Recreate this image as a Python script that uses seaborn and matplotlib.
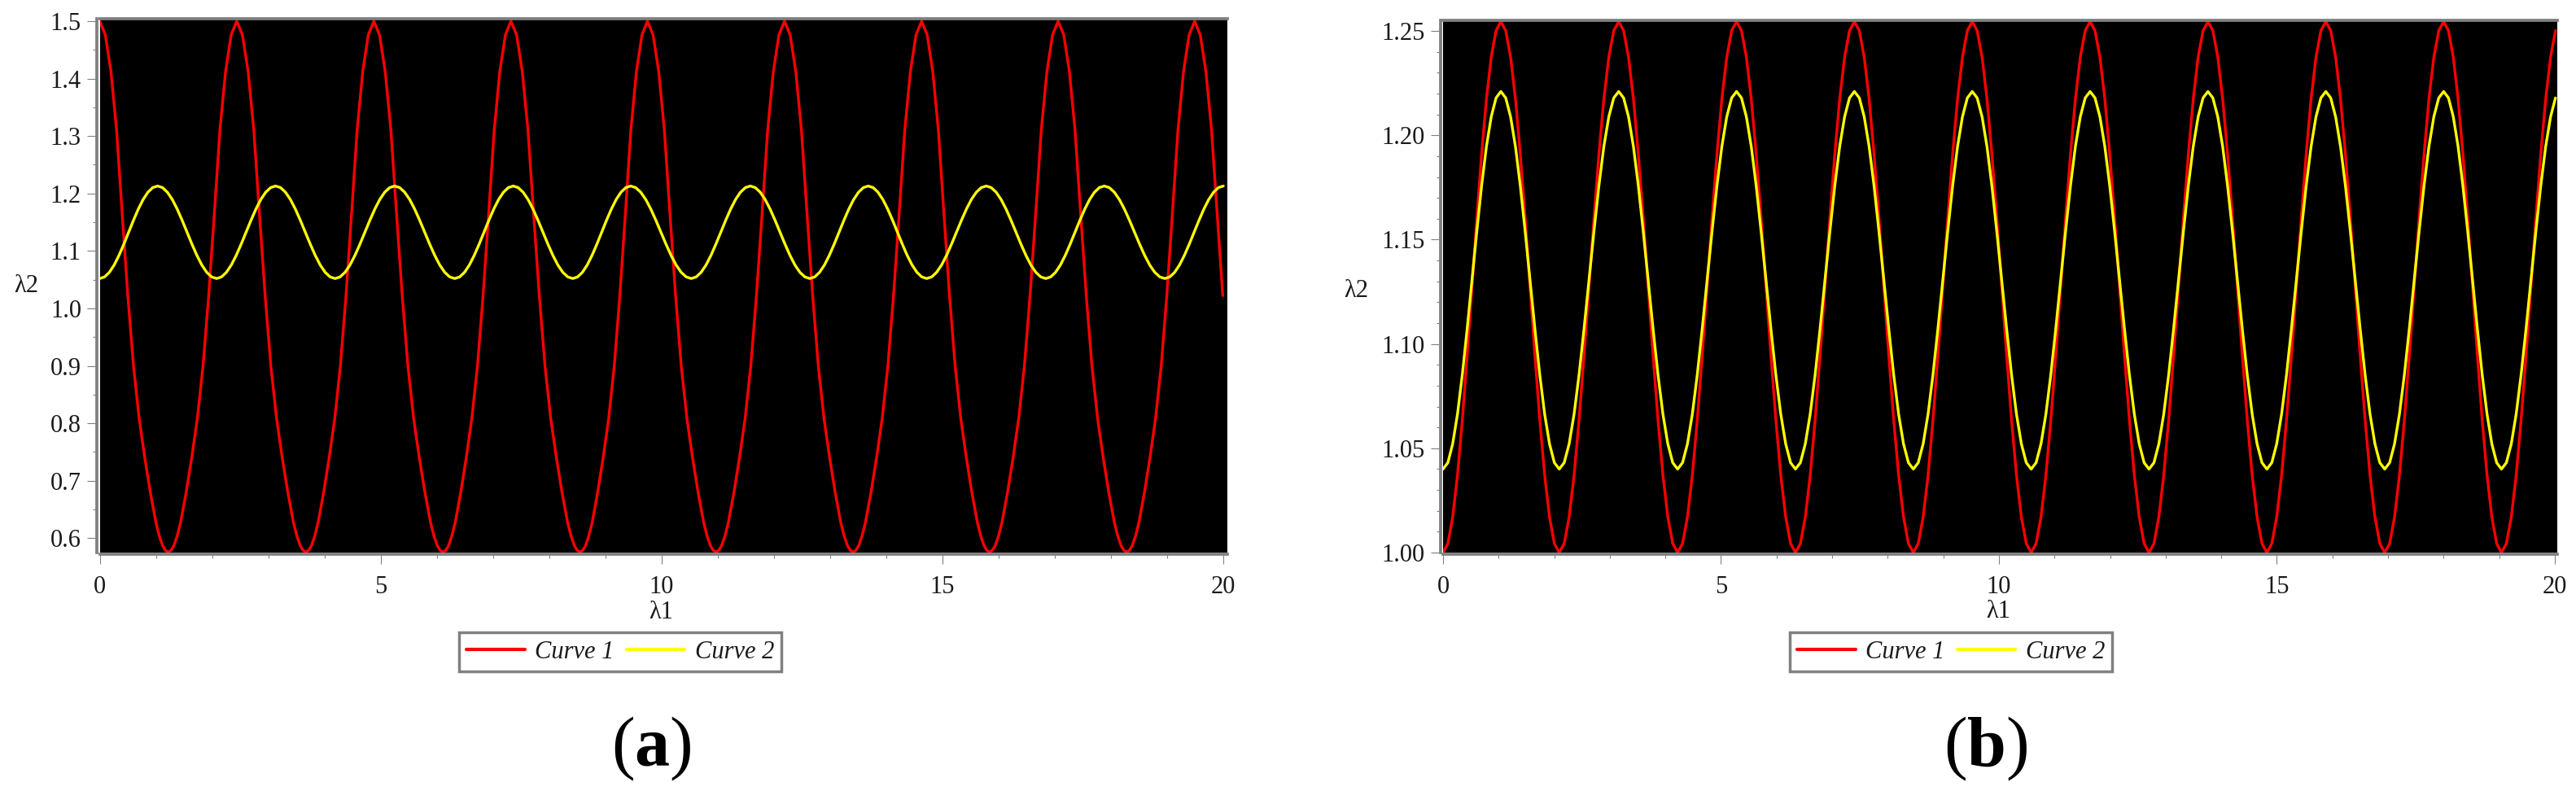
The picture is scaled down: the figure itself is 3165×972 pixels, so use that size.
import numpy as np
import pandas as pd
import matplotlib
matplotlib.use("Agg")
import matplotlib.pyplot as plt
from matplotlib.ticker import MultipleLocator, FormatStrFormatter
import seaborn as sns

# ---------------- data ----------------
# extremum positions along lambda1 (alternating peak / trough)
red_a_extrema = [0.00, 1.22, 2.44, 3.67, 4.88, 6.11, 7.32, 8.55, 9.75, 10.97,
                 12.19, 13.41, 14.63, 15.84, 17.06, 18.28, 19.49, 20.71]
red_a_first_is_peak = True
red_a_low, red_a_high = 0.576, 1.500

yel_a_extrema = [0.00, 1.03, 2.08, 3.13, 4.19, 5.25, 6.32, 7.36, 8.42, 9.45,
                 10.53, 11.58, 12.64, 13.68, 14.72, 15.78, 16.84, 17.88, 18.96, 20.00]
yel_a_first_is_peak = False
yel_a_low, yel_a_high = 1.052, 1.213

red_b_extrema = [0.00, 1.04, 2.09, 3.16, 4.22, 5.28, 6.34, 7.40, 8.46, 9.52,
                 10.58, 11.64, 12.70, 13.76, 14.82, 15.88, 16.94, 18.00, 19.04, 20.10]
red_b_first_is_peak = False
red_b_low, red_b_high = 1.000, 1.2545

yel_b_extrema = red_b_extrema
yel_b_first_is_peak = False
yel_b_low, yel_b_high = 1.040, 1.221

# shape of one half-cycle (fraction of the way from peak to trough -> relative height)
red_a_shape_f = [0.0, 0.082, 0.164, 0.246, 0.328, 0.410, 0.493, 0.575, 0.657, 0.739, 0.821, 0.870, 0.918, 0.960, 1.0]
red_a_shape_g = [1.0, 0.974, 0.905, 0.795, 0.637, 0.483, 0.350, 0.252, 0.178, 0.112, 0.055, 0.030, 0.012, 0.003, 0.0]
smooth_shape_f = [0.0, 0.0833, 0.1667, 0.25, 0.3333, 0.4167, 0.5, 0.5833, 0.6667, 0.75, 0.8333, 0.9167, 1.0]
smooth_shape_g = [1.0, 0.983, 0.933, 0.854, 0.750, 0.629, 0.500, 0.371, 0.250, 0.146, 0.067, 0.017, 0.0]

x_ticks = [0, 5, 10, 15, 20]
legend_labels = ["Curve 1", "Curve 2"]
panel_labels = ["a", "b"]


def assemble(extrema, first_is_peak, low, high, shape_f, shape_g, xmax=20.02):
    xs, ys = [], []
    for i in range(len(extrema) - 1):
        xa, xb = extrema[i], extrema[i + 1]
        a_is_peak = (i % 2 == 0) == first_is_peak
        xp, xt = (xa, xb) if a_is_peak else (xb, xa)
        pairs = list(zip(shape_f, shape_g))
        if not a_is_peak:
            pairs = pairs[::-1]
        for j, (f, g) in enumerate(pairs):
            if i > 0 and j == 0:
                continue
            x = xp + f * (xt - xp)
            if x <= xmax:
                xs.append(x)
                ys.append(low + g * (high - low))
    return pd.DataFrame({"l1": xs, "l2": ys})


red_a = assemble(red_a_extrema, red_a_first_is_peak, red_a_low, red_a_high, red_a_shape_f, red_a_shape_g, xmax=20.0)
yel_a = assemble(yel_a_extrema, yel_a_first_is_peak, yel_a_low, yel_a_high, smooth_shape_f, smooth_shape_g)
red_b = assemble(red_b_extrema, red_b_first_is_peak, red_b_low, red_b_high, smooth_shape_f, smooth_shape_g)
yel_b = assemble(yel_b_extrema, yel_b_first_is_peak, yel_b_low, yel_b_high, smooth_shape_f, smooth_shape_g)

# ---------------- styling ----------------
sns.set_style("ticks")
plt.rcParams["font.family"] = ["Liberation Serif", "DejaVu Serif"]
plt.rcParams["mathtext.fontset"] = "custom"
plt.rcParams["mathtext.rm"] = "Liberation Serif"
plt.rcParams["mathtext.bf"] = "Liberation Serif:bold"

W, H = 3165, 972
fig = plt.figure(figsize=(W / 100, H / 100), dpi=100)
fig.patch.set_facecolor("white")

SPINE = "#808080"
TXT = "#1a1a1a"
FS = 22

panels = [
    dict(rect=[122.5 / W, 1 - 679 / H, 1385.5 / W, 656 / H], xlim=(0, 20.072), ylim=(0.575, 1.5042),
         major=0.1, minor=0.05, fmt="%.1f", data=(red_a, yel_a),
         ylab=(-0.0653, 0.4985), leg=(762 / W, 1 - 801 / H), lab=(800 / W, 1 - 920 / H)),
    dict(rect=[1773 / W, 1 - 679 / H, 1369 / W, 654 / H], xlim=(0, 20.044), ylim=(1.0, 1.2551),
         major=0.05, minor=0.01, fmt="%.2f", data=(red_b, yel_b),
         ylab=(-0.0782, 0.492), leg=(2397 / W, 1 - 801 / H), lab=(2440 / W, 1 - 920 / H)),
]

for p, plab in zip(panels, panel_labels):
    ax = fig.add_axes(p["rect"])
    ax.set_facecolor("black")
    d1, d2 = p["data"]
    sns.lineplot(data=d1, x="l1", y="l2", ax=ax, color="#ff0000", lw=2.4,
                 estimator=None, sort=False, label=legend_labels[0])
    sns.lineplot(data=d2, x="l1", y="l2", ax=ax, color="#ffff00", lw=2.4,
                 estimator=None, sort=False, label=legend_labels[1])
    ax.set_xlim(*p["xlim"])
    ax.set_ylim(*p["ylim"])

    ax.set_xticks(x_ticks)
    ax.xaxis.set_minor_locator(MultipleLocator(1))
    ax.yaxis.set_major_locator(MultipleLocator(p["major"]))
    ax.yaxis.set_minor_locator(MultipleLocator(p["minor"]))
    ax.yaxis.set_major_formatter(FormatStrFormatter(p["fmt"]))

    ax.tick_params(which="both", direction="out", color=SPINE, width=0.8)
    ax.tick_params(which="major", length=8.6, labelsize=FS, labelcolor=TXT)
    ax.tick_params(which="minor", length=3.6)
    ax.tick_params(axis="y", which="major", pad=5.4)
    ax.tick_params(axis="x", which="major", pad=10)

    ax.spines["right"].set_visible(False)
    for s in ("left", "bottom", "top"):
        ax.spines[s].set_color(SPINE)
        ax.spines[s].set_linewidth(2.7)
    ax.spines["left"].set_position(("outward", 2.2))
    ax.spines["bottom"].set_position(("outward", 1.4))

    ax.set_xlabel("λ1", fontsize=FS, color=TXT)
    ax.xaxis.set_label_coords(0.498, -0.1113)
    ax.xaxis.label.set_verticalalignment("center")
    ax.set_ylabel("λ2", fontsize=FS, color=TXT, rotation=0)
    ax.yaxis.set_label_coords(*p["ylab"])
    ax.yaxis.label.set_verticalalignment("center")
    ax.yaxis.label.set_horizontalalignment("center")

    handles, labels = ax.get_legend_handles_labels()
    leg = ax.legend(handles, labels, loc="center", bbox_to_anchor=p["leg"],
                    bbox_transform=fig.transFigure, ncol=2, frameon=True,
                    prop={"family": "Liberation Serif", "style": "italic", "size": FS},
                    handlelength=2.35, handletextpad=0.4, columnspacing=0.5,
                    borderpad=0.3, borderaxespad=0, fancybox=False)
    fr = leg.get_frame()
    fr.set_edgecolor(SPINE)
    fr.set_linewidth(2.5)
    fr.set_facecolor("white")
    fr.set_alpha(1)
    for h in leg.legend_handles:
        h.set_linewidth(3)
    for t in leg.get_texts():
        t.set_color(TXT)

    fig.text(p["lab"][0], p["lab"][1], "($\\mathbf{" + plab + "}$)", fontsize=62,
             ha="center", va="center", color="black")

fig.savefig("out.png", dpi=100)
